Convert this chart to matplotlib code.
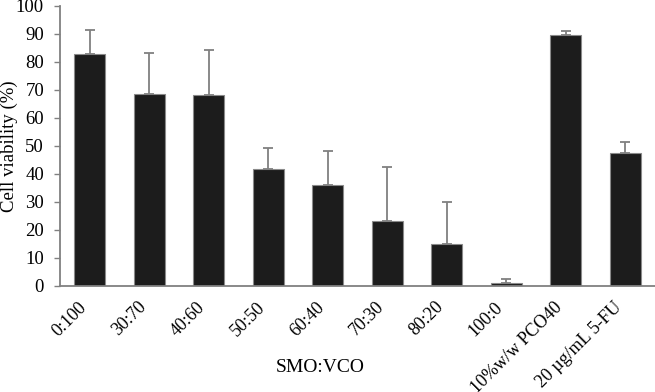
import numpy as np
import matplotlib
matplotlib.use('Agg')
import matplotlib.pyplot as plt

plt.rcParams['font.family'] = ['Liberation Serif', 'DejaVu Serif']

# data
categories = ['0:100', '30:70', '40:60', '50:50', '60:40', '70:30', '80:20',
              '100:0', '10%w/w PCO40', '20 \u00b5g/mL 5-FU']
viability = [82.7, 68.5, 68.3, 41.7, 36.0, 23.2, 14.9, 1.2, 89.5, 47.6]
sd_upper = [8.7, 14.8, 15.9, 7.5, 12.2, 19.4, 15.0, 1.2, 1.7, 3.9]
yticks = [0, 10, 20, 30, 40, 50, 60, 70, 80, 90, 100]

fig = plt.figure(figsize=(6.55, 3.92), dpi=100)
ax = fig.add_axes([60 / 655, 1 - 286 / 392, 595 / 655, 280 / 392])

x = np.arange(len(categories))
lower = np.zeros(len(sd_upper))
ax.bar(x, viability, width=0.52, color='#1c1c1c', edgecolor='#8a8a8a',
       linewidth=0.8, zorder=2)
ax.errorbar(x, viability, yerr=[lower, sd_upper], fmt='none', ecolor='#808080',
            elinewidth=1.3, capsize=3.4, capthick=1.3, zorder=3)

ax.set_xlim(-0.5, 9.5)
ax.set_ylim(0, 100)
ax.set_yticks(yticks)
ax.set_yticklabels([str(t) for t in yticks], fontsize=13.5)
ax.set_xticks(x)
ax.set_xticklabels(categories, rotation=45, ha='right', fontsize=13)
ax.tick_params(axis='x', length=0, pad=9)
ax.tick_params(axis='y', direction='out', length=4.5, width=1.0, color='#808080',
               pad=7)

for side in ['top', 'right']:
    ax.spines[side].set_visible(False)
for side in ['left', 'bottom']:
    ax.spines[side].set_color('#808080')
    ax.spines[side].set_linewidth(1.3)

ax.set_ylabel('Cell viability (%)', fontsize=13.5)
ax.yaxis.set_label_coords(-0.071, 0.5)
fig.text(320 / 655, 1 - 368 / 392, 'SMO:VCO', fontsize=14,
         ha='center', va='center')

fig.savefig('out.png', dpi=100)
